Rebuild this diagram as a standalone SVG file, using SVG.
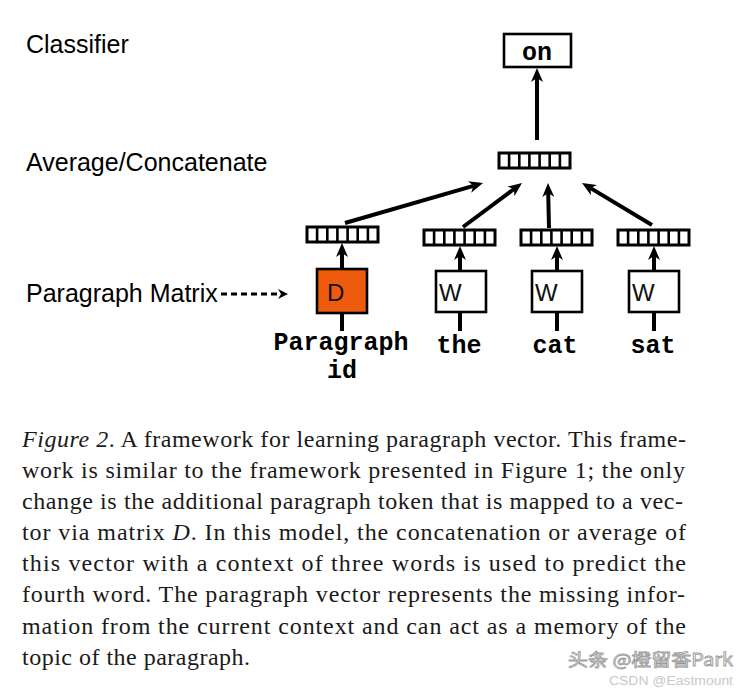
<svg xmlns="http://www.w3.org/2000/svg" xmlns:xlink="http://www.w3.org/1999/xlink" width="747" height="693" viewBox="0 0 747 693">
<style>
.lbl{font-family:"Liberation Sans",Arial,sans-serif;font-size:25px;fill:#000}
.mono{font-family:"Liberation Mono","Courier New",monospace;font-weight:bold;font-size:25px;fill:#000;text-anchor:middle}
.box{stroke:#000;stroke-width:2.6;fill:#fff}
.inner{font-family:"Liberation Sans",Arial,sans-serif;font-size:24px;fill:#111}
.arr{stroke:#000;stroke-width:4;fill:none;marker-end:url(#ah)}
.stem{stroke:#000;stroke-width:4;fill:none}
.cap{font-family:"Liberation Serif","Times New Roman",serif;font-size:24px;fill:#1a1a1a}
</style>
<defs>
<marker id="ah" markerUnits="userSpaceOnUse" viewBox="0 0 14 12" refX="4" refY="6" markerWidth="14" markerHeight="12" orient="auto">
<path d="M0,0 L14,6 L0,12 L4,6 z" fill="#000"/>
</marker>
<marker id="ahs" markerUnits="userSpaceOnUse" viewBox="0 0 10 10" refX="3" refY="5" markerWidth="10" markerHeight="10" orient="auto">
<path d="M0,0 L10,5 L0,10 L3,5 z" fill="#000"/>
</marker>
<g id="vec">
<rect x="0" y="0" width="71" height="15" fill="#fff" stroke="#000" stroke-width="3"/>
<path d="M10.1,0V15M20.3,0V15M30.4,0V15M40.6,0V15M50.7,0V15M60.9,0V15" stroke="#000" stroke-width="2.6"/>
</g>
</defs>
<rect width="747" height="693" fill="#fff"/>

<g id="labels">
<text class="lbl" x="26" y="53">Classifier</text>
<text class="lbl" x="26" y="171">Average/Concatenate</text>
<text class="lbl" x="26" y="302">Paragraph Matrix</text>
</g>

<g id="node-on">
<rect class="box" x="504" y="34" width="67" height="33"/>
<text class="mono" x="537" y="60" font-size="23">on</text>
</g>
<g id="node-avg"><use xlink:href="#vec" x="499" y="153"/></g>
<g id="node-vec-d"><use xlink:href="#vec" x="307" y="227"/></g>
<g id="node-vec-the"><use xlink:href="#vec" x="424" y="230"/></g>
<g id="node-vec-cat"><use xlink:href="#vec" x="521" y="230"/></g>
<g id="node-vec-sat"><use xlink:href="#vec" x="618" y="230"/></g>

<g id="node-D">
<rect x="317" y="269" width="50" height="44" fill="#EE5A0E" stroke="#000" stroke-width="2.6"/>
<text class="inner" x="327" y="301">D</text>
</g>
<g id="node-W-the">
<rect class="box" x="436" y="271" width="50" height="41"/>
<text class="inner" x="439" y="301">W</text>
</g>
<g id="node-W-cat">
<rect class="box" x="532" y="271" width="50" height="41"/>
<text class="inner" x="535" y="301">W</text>
</g>
<g id="node-W-sat">
<rect class="box" x="629" y="271" width="50" height="41"/>
<text class="inner" x="632" y="301">W</text>
</g>

<g id="node-words">
<text class="mono" x="341" y="350">Paragraph</text>
<text class="mono" x="342" y="378">id</text>
<text class="mono" x="459" y="353">the</text>
<text class="mono" x="555" y="353">cat</text>
<text class="mono" x="653" y="353">sat</text>
</g>

<g id="connectors">
<line class="arr" x1="537" y1="140" x2="537" y2="78"/>
<line class="arr" x1="345" y1="223" x2="473.4" y2="185.8"/>
<line class="arr" x1="463" y1="227" x2="514" y2="189"/>
<line class="arr" x1="549" y1="228" x2="548.2" y2="193"/>
<line class="arr" x1="652" y1="225" x2="590.6" y2="188.1"/>
<line class="arr" x1="342" y1="269" x2="342" y2="253"/>
<line class="arr" x1="460" y1="271" x2="460" y2="256"/>
<line class="arr" x1="557" y1="271" x2="557" y2="256"/>
<line class="arr" x1="654" y1="271" x2="654" y2="256"/>
<line class="stem" x1="342" y1="313" x2="342" y2="331"/>
<line class="stem" x1="460" y1="312" x2="460" y2="331"/>
<line class="stem" x1="557" y1="312" x2="557" y2="331"/>
<line class="stem" x1="654" y1="312" x2="654" y2="331"/>
<line x1="221" y1="294" x2="281" y2="294" stroke="#000" stroke-width="3.2" stroke-dasharray="6,4" marker-end="url(#ahs)"/>
</g>

<g id="caption">
<text class="cap" x="22" y="447" textLength="664" lengthAdjust="spacing"><tspan font-style="italic">Figure 2</tspan>. A framework for learning paragraph vector. This frame-</text>
<text class="cap" x="22" y="478" textLength="663" lengthAdjust="spacing">work is similar to the framework presented in Figure 1; the only</text>
<text class="cap" x="22" y="509" textLength="661" lengthAdjust="spacing">change is the additional paragraph token that is mapped to a vec-</text>
<text class="cap" x="22" y="540" textLength="664" lengthAdjust="spacing">tor via matrix <tspan font-style="italic">D</tspan>. In this model, the concatenation or average of</text>
<text class="cap" x="22" y="571" textLength="664" lengthAdjust="spacing">this vector with a context of three words is used to predict the</text>
<text class="cap" x="22" y="602" textLength="663" lengthAdjust="spacing">fourth word. The paragraph vector represents the missing infor-</text>
<text class="cap" x="22" y="634" textLength="664" lengthAdjust="spacing">mation from the current context and can act as a memory of the</text>
<text class="cap" x="22" y="665" textLength="228" lengthAdjust="spacing">topic of the paragraph.</text>
</g>

<g id="watermark">
<text x="568" y="666" font-family="'Noto Sans CJK SC',sans-serif" font-size="17" fill="#fff" stroke="#9a9a9a" stroke-width="0.8" textLength="165" lengthAdjust="spacingAndGlyphs">头条 @橙留香Park</text>
<text x="609" y="685" font-family="'Liberation Sans',sans-serif" font-size="12" fill="#c8c8c8" textLength="124" lengthAdjust="spacingAndGlyphs">CSDN @Eastmount</text>
</g>
</svg>
